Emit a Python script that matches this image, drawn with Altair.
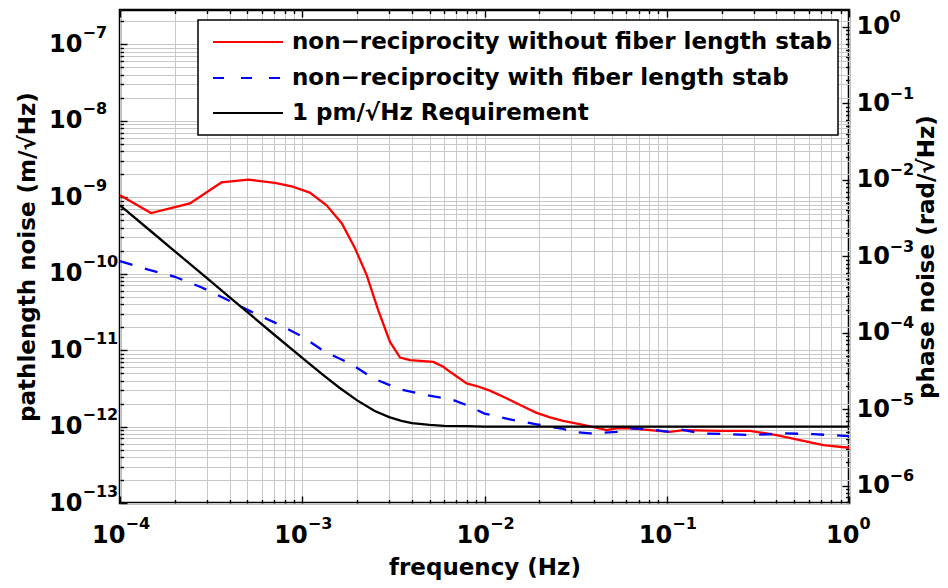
import math
import altair as alt
import pandas as pd

# ---------------- data ----------------
FREQ_NO_STAB = [1e-4, 1.48e-4, 2.42e-4, 3.6e-4, 5.06e-4, 7.08e-4, 8.74e-4, 1.10e-3, 1.36e-3,
                1.65e-3, 1.95e-3, 2.26e-3, 2.61e-3, 3.03e-3, 3.44e-3, 3.9e-3, 5.24e-3, 5.94e-3,
                6.47e-3, 7.98e-3, 9.06e-3, 1.07e-2, 1.32e-2, 1.57e-2, 1.93e-2, 2.29e-2, 2.70e-2,
                3.48e-2, 4.68e-2, 5.31e-2, 6.28e-2, 8.09e-2, 0.104, 0.123, 0.2, 0.286, 0.40,
                0.538, 0.723, 1.0]
NOISE_NO_STAB = [1.06e-9, 6.2e-10, 8.3e-10, 1.56e-9, 1.70e-9, 1.54e-9, 1.39e-9, 1.15e-9, 7.85e-10,
                 4.53e-10, 2.13e-10, 9.5e-11, 3.34e-11, 1.28e-11, 8.0e-12, 7.4e-12, 7.0e-12, 6.05e-12,
                 5.2e-12, 3.67e-12, 3.39e-12, 2.95e-12, 2.34e-12, 1.91e-12, 1.51e-12, 1.32e-12, 1.19e-12,
                 1.05e-12, 9.0e-13, 9.5e-13, 9.5e-13, 9.0e-13, 8.5e-13, 9.0e-13, 8.8e-13, 8.8e-13, 7.74e-13,
                 6.66e-13, 5.73e-13, 5.28e-13]

FREQ_STAB = [1e-4, 1.43e-4, 2.0e-4, 2.81e-4, 3.85e-4, 5.28e-4, 7.24e-4, 9.93e-4, 1.33e-3, 1.83e-3,
             2.45e-3, 3.44e-3, 4.82e-3, 6.74e-3, 7.98e-3, 1.0e-2, 1.38e-2, 1.93e-2, 2.70e-2, 3.07e-2,
             3.79e-2, 5.31e-2, 6.28e-2, 8.1e-2, 0.104, 0.118, 0.152, 0.232, 0.299, 0.436, 0.637, 1.0]
NOISE_STAB = [1.46e-10, 1.13e-10, 9.1e-11, 6.6e-11, 4.6e-11, 3.16e-11, 2.23e-11, 1.52e-11, 9.5e-12, 6.7e-12,
              4.27e-12, 3.06e-12, 2.58e-12, 2.22e-12, 1.91e-12, 1.48e-12, 1.24e-12, 1.07e-12, 9.3e-13, 8.5e-13,
              8.15e-13, 8.5e-13, 9.5e-13, 9.2e-13, 8.5e-13, 9.2e-13, 8.15e-13, 7.9e-13, 7.74e-13, 8.15e-13,
              7.95e-13, 7.5e-13]

FREQ_REQ = [1e-4, 1.5e-4, 2e-4, 3e-4, 4e-4, 5e-4, 7e-4, 1e-3, 1.3e-3, 1.6e-3, 2e-3, 2.5e-3, 3e-3,
            3.5e-3, 4e-3, 5e-3, 6e-3, 8e-3, 1e-2, 2e-2, 5e-2, 1e-1, 1.0]
NOISE_REQ = [7.84e-10, 3.48e-10, 1.96e-10, 8.71e-11, 4.90e-11, 3.14e-11, 1.60e-11, 7.90e-12, 4.74e-12,
             3.22e-12, 2.20e-12, 1.60e-12, 1.33e-12, 1.19e-12, 1.11e-12, 1.05e-12, 1.02e-12, 1.01e-12,
             1.00e-12, 1.00e-12, 1.00e-12, 1.00e-12, 1.00e-12]

SERIES = ["non\u2212reciprocity without fiber length stab",
          "non\u2212reciprocity with fiber length stab",
          "1 pm/\u221aHz Requirement"]
COLORS = ["#ff0000", "#0000ff", "#000000"]

X_TITLE = "frequency (Hz)"
Y_TITLE = "pathlength noise (m/\u221aHz)"
Y2_TITLE = "phase noise (rad/\u221aHz)"

X_TICKS = [1e-4, 1e-3, 1e-2, 1e-1, 1e0]
Y_TICKS = [1e-13, 1e-12, 1e-11, 1e-10, 1e-9, 1e-8, 1e-7]
PHASE_TICKS = [1e-6, 1e-5, 1e-4, 1e-3, 1e-2, 1e-1, 1e0]

WAVELENGTH = 1.064e-6
K = 2 * math.pi / WAVELENGTH          # m -> rad

X_DOMAIN = [1e-4, 1.0]
Y_DOMAIN = [1e-13, 2.81e-7]
PHASE_DOMAIN = [Y_DOMAIN[0] * K, Y_DOMAIN[1] * K]


def decade_steps(lo, hi, e0, e1, minor_only=False):
    out = []
    for e in range(e0, e1 + 1):
        for k in range(2 if minor_only else 1, 10):
            v = k * 10.0 ** e
            if lo * 0.9999 <= v <= hi * 1.0001:
                out.append(v)
    return out


X_GRID = decade_steps(*X_DOMAIN, -4, 0)
Y_GRID = decade_steps(*Y_DOMAIN, -13, -7)
X_MINOR = decade_steps(*X_DOMAIN, -4, 0, True)
Y_MINOR = decade_steps(*Y_DOMAIN, -13, -7, True)
P_MINOR = decade_steps(*PHASE_DOMAIN, -7, 0, True)

df_red = pd.DataFrame({"f": FREQ_NO_STAB, "L": NOISE_NO_STAB})
df_blue = pd.DataFrame({"f": FREQ_STAB, "L": NOISE_STAB})
df_black = pd.DataFrame({"f": FREQ_REQ, "L": NOISE_REQ})
df_black["P"] = df_black["L"] * K

# ---------------- layout / style ----------------
W, H = 729, 493
FONT = "DejaVu Sans"
GRID = "#c8c8c8"

xs = alt.Scale(type="log", domain=X_DOMAIN, nice=False)
ys = alt.Scale(type="log", domain=Y_DOMAIN, nice=False)
ps = alt.Scale(type="log", domain=PHASE_DOMAIN, nice=False)

EXP = "format(round(log(datum.value) / LN10), 'd')"
XOFF = {"condition": {"test": "datum.value > 0.5", "value": 10}, "value": 5}


def axis(**kw):
    base = dict(domain=False, grid=False, ticks=False, tickSize=0, labels=False,
                labelFlush=False, labelOverlap=False, title=None)
    base.update(kw)
    return alt.Axis(**base)


def ticks(orient, offset, values, size):
    return axis(orient=orient, offset=offset, values=values, ticks=True,
                tickSize=size, tickWidth=1.4, tickColor="black")


x_grid = axis(orient="bottom", values=X_GRID, grid=True, gridColor=GRID, gridWidth=1)
y_grid = axis(orient="left", values=Y_GRID, grid=True, gridColor=GRID, gridWidth=1)

x_base = axis(orient="bottom", values=X_TICKS, labels=True, labelExpr="'10'", labelAlign="right",
              labelBaseline="middle", labelPadding=32, labelFontSize=24, labelOffset=XOFF,
              title=X_TITLE, titleFontSize=23, titleY=64, titleBaseline="middle")
x_exp = axis(orient="bottom", values=X_TICKS, labels=True, labelExpr=EXP, labelAlign="left",
             labelBaseline="middle", labelPadding=20, labelFontSize=16, labelOffset=XOFF)

y_base = axis(orient="left", values=Y_TICKS, labels=True, labelExpr="'10'", labelAlign="right",
              labelBaseline="middle", labelPadding=38, labelFontSize=24,
              title=Y_TITLE, titleFontSize=23, titleAngle=270, titleX=-93,
              titleBaseline="middle", titleAlign="center")
y_exp = axis(orient="left", values=Y_TICKS, labels=True, labelExpr=EXP, labelAlign="left",
             labelBaseline="middle", labelPadding=38, labelFontSize=16, labelOffset=-12)

p_base = axis(orient="right", values=PHASE_TICKS, labels=True, labelExpr="'10'", labelAlign="left",
              labelBaseline="middle", labelPadding=7, labelFontSize=24,
              title=Y2_TITLE, titleFontSize=23, titleAngle=270, titleX=77,
              titleBaseline="middle", titleAlign="center")
p_exp = axis(orient="right", values=PHASE_TICKS, labels=True, labelExpr=EXP, labelAlign="left",
             labelBaseline="middle", labelPadding=40, labelFontSize=16, labelOffset=-10)


def line_layer(df, color, x_axis, y_axis, dash=None):
    kw = dict(color=color, strokeWidth=2.3)
    if dash:
        kw["strokeDash"] = dash
    return alt.Chart(df).mark_line(**kw).encode(
        x=alt.X("f:Q", scale=xs, axis=x_axis),
        y=alt.Y("L:Q", scale=ys, axis=y_axis),
        order="f:Q",
    )


def guide(x_axis, y_axis, phase=False):
    return alt.Chart(df_black).mark_point(opacity=0).encode(
        x=alt.X("f:Q", scale=xs, axis=x_axis),
        y=alt.Y("P:Q" if phase else "L:Q", scale=ps if phase else ys, axis=y_axis),
    )


layers = [
    line_layer(df_red, COLORS[0], x_grid, y_grid),
    line_layer(df_blue, COLORS[1], x_base, y_base, dash=[13, 13]),
    line_layer(df_black, COLORS[2], x_exp, y_exp),
    guide(ticks("top", -H, X_TICKS, 7), ticks("right", -W, Y_TICKS, 7)),
    guide(ticks("top", -H, X_MINOR, 3.5), ticks("right", -W, Y_MINOR, 3.5)),
    guide(ticks("bottom", -H, X_TICKS, 7), None),
    guide(ticks("bottom", -H, X_MINOR, 3.5), None),
    guide(None, p_base, phase=True),
    guide(None, p_exp, phase=True),
    guide(None, ticks("left", -W, PHASE_TICKS, 7), phase=True),
    guide(None, ticks("left", -W, P_MINOR, 3.5), phase=True),
]

# ---------------- legend (drawn as marks) ----------------
LEG_X0, LEG_X1, LEG_Y0, LEG_Y1 = 78, 718, 10, 125
ROWS = [32, 68, 103]
layers.append(
    alt.Chart(pd.DataFrame({"k": [0]})).mark_rect(fill="white", stroke="black", strokeWidth=1.5).encode(
        x=alt.value(LEG_X0), x2=alt.value(LEG_X1), y=alt.value(LEG_Y0), y2=alt.value(LEG_Y1))
)
for i, name in enumerate(SERIES):
    rkw = dict(color=COLORS[i], strokeWidth=2.2)
    if i == 1:
        rkw["strokeDash"] = [11, 17]
    layers.append(
        alt.Chart(pd.DataFrame({"label": [name]})).mark_rule(**rkw).encode(
            x=alt.value(93), x2=alt.value(163), y=alt.value(ROWS[i]))
    )
    layers.append(
        alt.Chart(pd.DataFrame({"label": [name]})).mark_text(
            align="left", baseline="middle", font=FONT, fontSize=23, fontWeight="bold", color="black"
        ).encode(x=alt.value(172), y=alt.value(ROWS[i]), text="label:N")
    )

chart = (
    alt.layer(*layers)
    .resolve_scale(y="independent")
    .resolve_axis(x="independent", y="independent")
    .properties(width=W, height=H,
                padding={"left": 112, "top": 2, "right": 91, "bottom": 77},
                autosize=alt.AutoSizeParams(type="none"))
    .configure_view(stroke="black", strokeWidth=2.5)
    .configure_axis(labelFont=FONT, titleFont=FONT, labelFontWeight="bold",
                    titleFontWeight="bold", labelColor="black", titleColor="black")
)

chart.save("out.html", embed_options={"renderer": "svg", "actions": False})
